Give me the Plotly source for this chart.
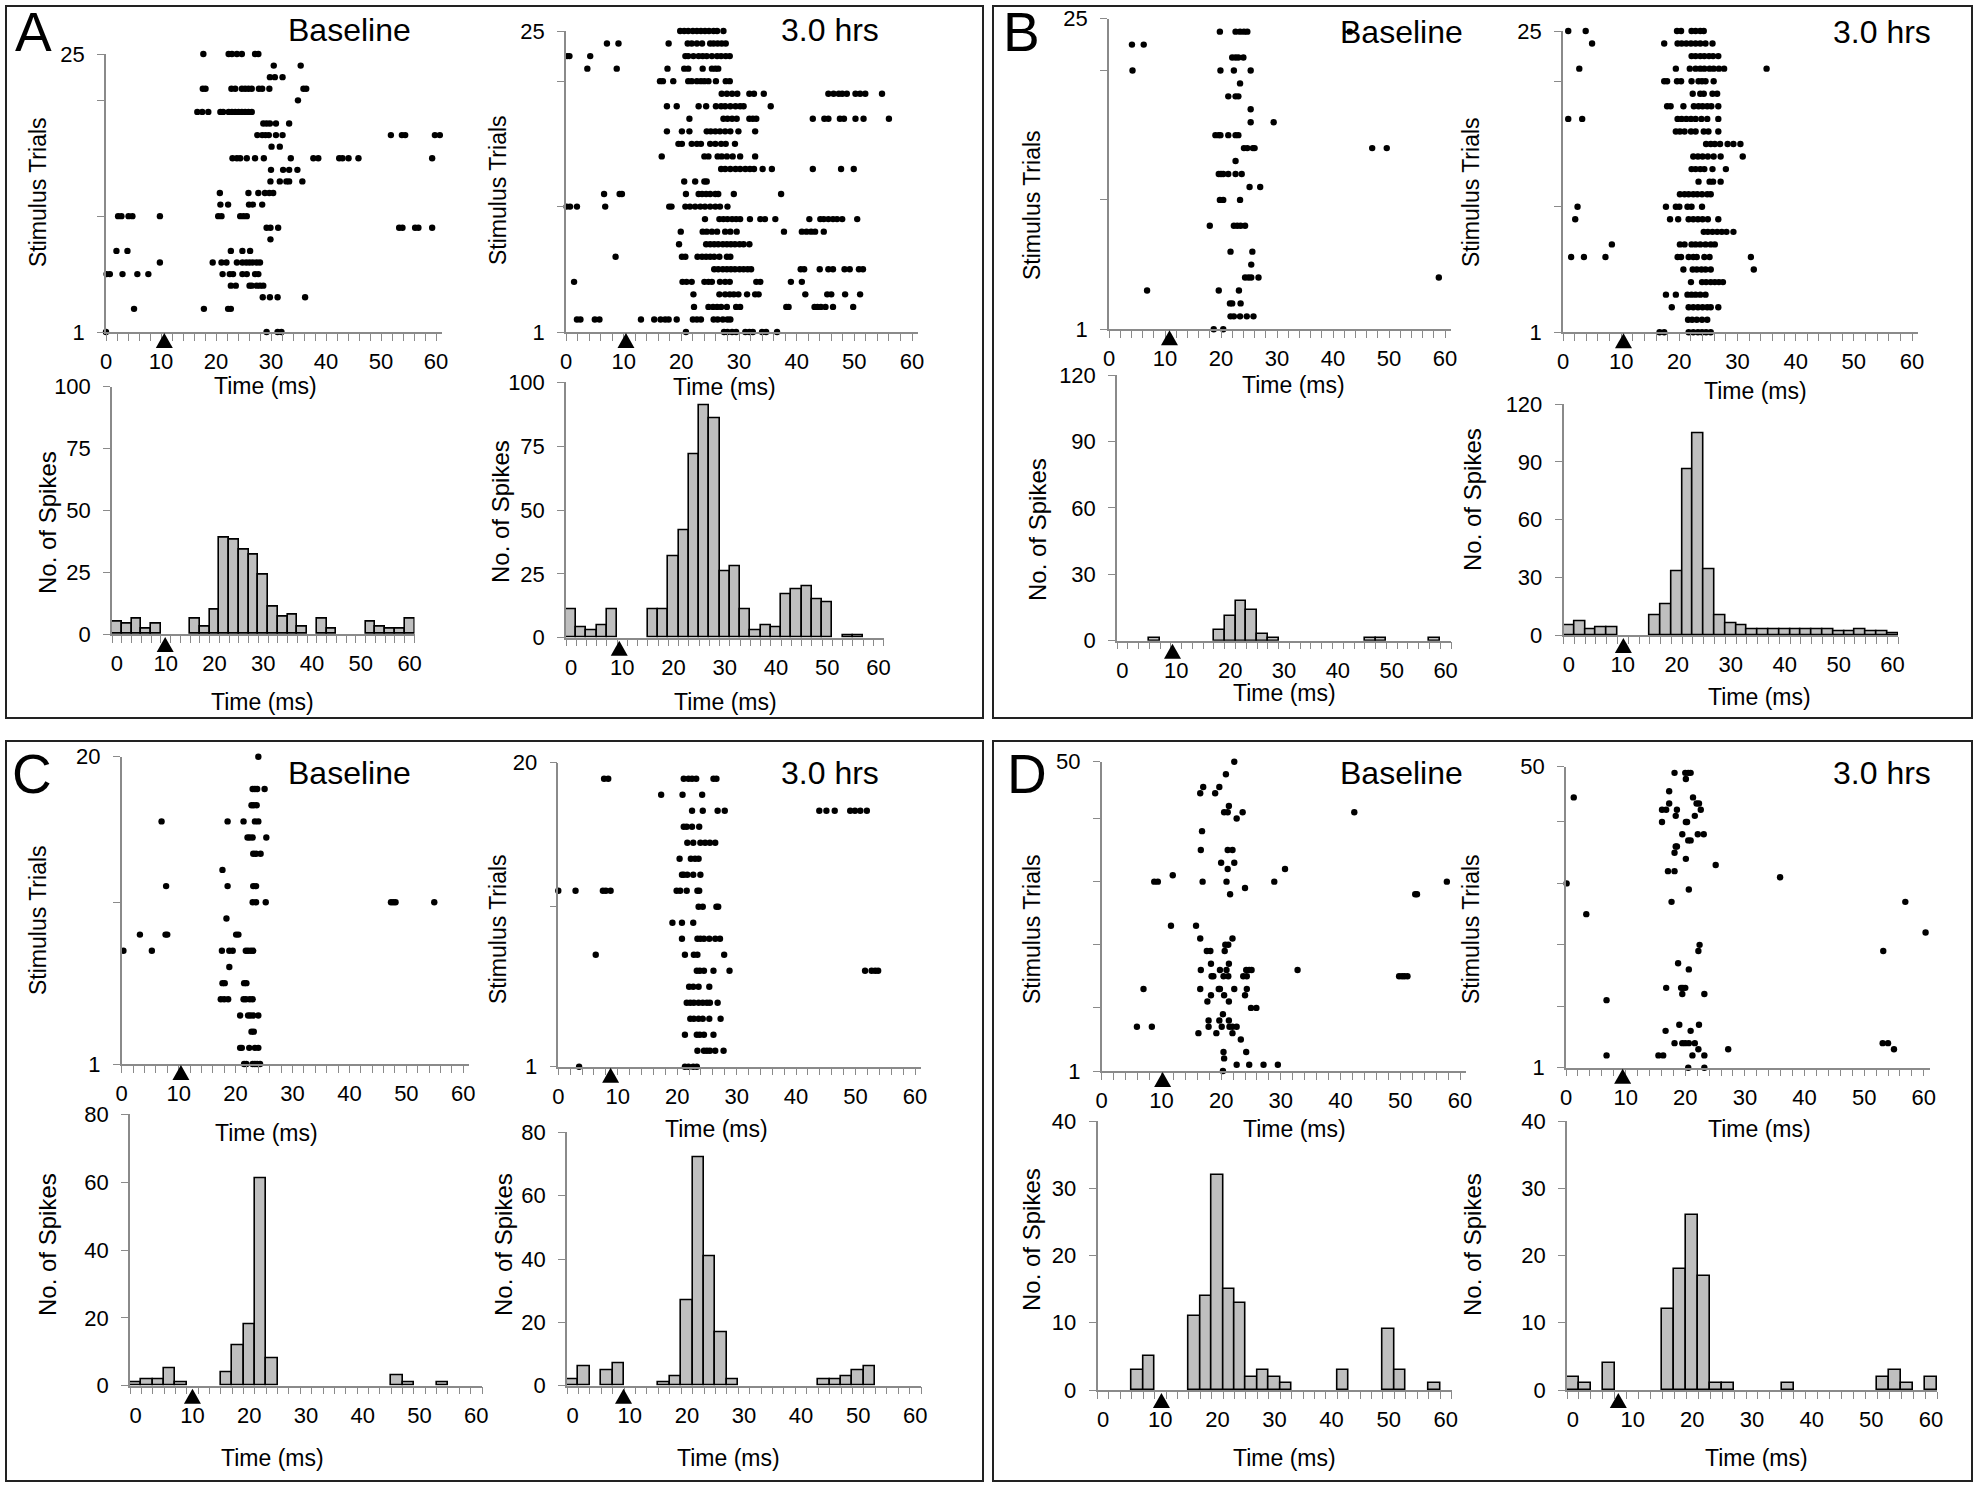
import plotly.graph_objects as go

W, H = 1980, 1489
OX, OY = 0, 0          # page offset of the plot inside the browser window (body margin removed)
FONT = "Liberation Sans"
GRAY = "#8a8a8a"

# ---------------- data ----------------
TIME_BINS = list(range(0, 61, 2))          # histogram bin centres (ms)
TIME_TICKS = [0, 10, 20, 30, 40, 50, 60]

# raster rows: (trial, [spike times in ms])
A_BASE_RASTER = [
    (25, [17.7, 22.3, 22.9, 23.8, 24.7, 27.1, 27.7]),
    (24, [30.5, 35.4]),
    (23, [29.8, 30.7, 32.1]),
    (22, [17.6, 18.1, 22.8, 23.5, 24.7, 25.3, 25.9, 26.5, 27.8, 28.4, 29.7, 35.9, 36.4]),
    (21, [34.9]),
    (20, [16.6, 17.5, 18.6, 20.8, 21.3, 22.3, 22.9, 23.5, 24.1, 24.7, 25.3, 25.9, 26.5]),
    (19, [28.6, 29.2, 29.8, 30.9, 33.3]),
    (18, [27.5, 28.4, 29.0, 29.6, 30.9, 32.1, 51.8, 53.8, 54.4, 59.8, 60.7]),
    (17, [30.1, 31.6]),
    (16, [23.0, 23.8, 24.4, 25.6, 27.1, 28.7, 33.6, 37.7, 38.6, 42.4, 43.0, 44.1, 45.9, 59.3]),
    (15, [30.0, 32.2, 33.3, 34.8]),
    (14, [29.9, 31.6, 32.8, 33.3, 35.7]),
    (13, [20.7, 25.9, 27.7, 28.9, 29.7, 30.4]),
    (12, [20.8, 22.2, 26.0, 26.7, 28.4]),
    (11, [2.2, 2.8, 4.1, 4.8, 9.8, 20.4, 21.0, 24.4, 25.0, 25.6]),
    (10, [29.2, 29.9, 31.3, 53.3, 53.9, 56.2, 56.8, 59.3]),
    (9, [29.9]),
    (8, [1.9, 3.9, 22.7, 24.8, 26.2]),
    (7, [9.8, 19.4, 21.0, 21.9, 23.8, 24.8, 25.5, 26.1, 26.7, 27.4, 28.0]),
    (6, [0.1, 0.7, 3.0, 5.7, 7.7, 21.2, 22.5, 23.1, 24.8, 25.6, 27.1, 27.7]),
    (5, [22.7, 23.6, 26.1, 26.5, 27.4, 28.0, 28.6]),
    (4, [28.5, 29.8, 31.2, 36.2]),
    (3, [5.1, 17.8, 22.2, 22.7]),
    (1, [0.0, 29.2, 31.2, 31.9]),
]

A_3H_RASTER = [
    (25, [19.8, 20.5, 21.2, 22.0, 22.7, 23.4, 24.1, 24.8, 25.6, 26.2, 27.3]),
    (24, [7.1, 9.1, 17.8, 21.1, 21.8, 22.7, 23.6, 25.0, 25.6, 26.3, 27.0, 27.7]),
    (23, [0.2, 0.6, 4.2, 20.7, 21.2, 22.1, 23.0, 23.7, 24.4, 25.3, 26.2, 26.9, 27.7, 28.4]),
    (22, [3.7, 8.8, 17.6, 20.5, 21.2, 23.7, 25.3, 25.9, 26.4]),
    (21, [16.3, 16.8, 18.6, 21.2, 21.8, 22.7, 23.4, 24.0, 24.7, 26.0, 27.7, 28.4]),
    (20, [27.0, 27.9, 28.8, 29.7, 31.8, 32.6, 34.3, 45.5, 46.4, 47.3, 47.9, 48.7, 50.2, 51.0, 51.9, 54.8]),
    (19, [17.5, 19.2, 23.0, 24.3, 26.0, 26.9, 27.6, 28.5, 29.4, 30.2, 30.8, 35.5]),
    (18, [21.4, 27.3, 28.0, 28.8, 29.6, 31.8, 32.4, 33.0, 42.8, 44.8, 45.5, 47.5, 48.2, 50.2, 51.6, 56.0]),
    (17, [17.5, 20.1, 21.4, 24.4, 25.1, 25.9, 26.7, 27.6, 28.5, 29.9, 32.8]),
    (16, [19.5, 20.1, 21.8, 22.7, 23.4, 25.0, 25.9, 26.9, 27.7, 29.3]),
    (15, [16.6, 24.0, 24.7, 26.3, 27.0, 27.9, 28.9, 30.2, 32.8]),
    (14, [26.9, 27.6, 28.5, 29.4, 30.2, 31.1, 31.9, 32.6, 34.1, 35.7, 42.8, 47.7, 49.9]),
    (13, [20.5, 22.4, 24.0, 24.4]),
    (12, [6.6, 9.3, 9.7, 20.8, 23.0, 23.6, 24.3, 25.0, 25.9, 26.4, 29.1, 37.3]),
    (11, [0.1, 0.7, 1.9, 6.8, 17.9, 18.3, 20.7, 21.5, 22.4, 23.3, 24.1, 25.0, 25.9, 26.7, 28.0]),
    (10, [24.1, 26.6, 27.3, 28.0, 28.8, 29.5, 30.2, 31.9, 33.7, 34.5, 36.3, 42.2, 44.1, 44.7, 45.5, 46.3, 47.0, 47.9, 50.5]),
    (9, [19.9, 23.7, 24.4, 25.3, 26.2, 27.6, 28.5, 29.6, 37.8, 40.9, 41.7, 42.5, 43.2, 44.7]),
    (8, [19.6, 24.3, 25.0, 25.7, 26.4, 27.2, 27.9, 28.6, 29.3, 30.1, 30.8, 31.8]),
    (7, [8.6, 20.1, 20.7, 22.8, 23.6, 24.3, 25.0, 25.7, 26.6, 27.9, 28.5]),
    (6, [25.7, 26.4, 27.2, 27.9, 28.6, 29.3, 30.1, 30.8, 31.5, 32.1, 40.7, 41.3, 44.0, 45.5, 46.3, 48.3, 49.2, 50.8, 51.5]),
    (5, [1.4, 20.2, 20.9, 21.8, 24.0, 24.7, 25.3, 26.7, 27.6, 28.4, 33.0, 33.7, 39.0, 40.9]),
    (4, [22.1, 26.6, 27.6, 28.4, 29.1, 29.9, 31.4, 32.8, 33.4, 41.5, 45.3, 46.0, 48.4, 51.0]),
    (3, [22.2, 24.7, 25.5, 26.2, 26.9, 27.9, 29.5, 30.2, 38.2, 38.6, 43.1, 43.6, 44.2, 45.0, 46.3, 49.8]),
    (2, [1.9, 2.5, 5.0, 5.8, 13.0, 15.3, 16.4, 17.2, 17.8, 19.2, 22.0, 22.7, 23.4, 25.6, 26.3, 27.2, 28.0, 28.5]),
    (1, [20.8, 27.4, 28.0, 28.8, 29.5, 31.1, 31.8, 32.4, 34.0, 34.7, 36.6]),
]

B_BASE_RASTER = [
    (24, [19.8, 22.6, 23.4, 24.1, 24.7, 43.0]),
    (23, [4.1, 6.2]),
    (22, [22.0, 22.6, 23.1, 24.0]),
    (21, [4.2, 19.9, 22.3, 25.3]),
    (20, [23.4]),
    (19, [21.3, 22.6, 23.1]),
    (18, [25.3]),
    (17, [25.3, 29.4]),
    (16, [19.0, 19.6, 19.9, 21.3, 22.6, 23.1]),
    (15, [24.1, 24.7, 25.7, 26.0, 47.0, 49.6]),
    (14, [22.6]),
    (13, [19.6, 20.0, 20.4, 21.3, 22.6, 23.7]),
    (12, [25.1, 27.0]),
    (11, [19.8, 20.4, 23.4]),
    (9, [18.0, 22.3, 22.9, 23.5, 24.3]),
    (7, [21.7, 25.6]),
    (6, [25.4]),
    (5, [24.3, 24.9, 25.4, 26.7, 58.9]),
    (4, [6.8, 19.6, 23.2]),
    (3, [21.6, 22.0, 23.5]),
    (2, [21.7, 22.3, 23.4, 24.6, 25.8]),
    (1, [18.7, 20.4]),
]

B_3H_RASTER = [
    (25, [0.9, 3.9, 19.6, 20.3, 22.1, 22.8, 23.6, 24.2]),
    (24, [5.0, 17.4, 19.7, 20.4, 21.2, 22.0, 22.8, 23.6, 24.5, 25.7]),
    (23, [22.1, 22.8, 23.6, 24.3, 25.1, 25.8, 26.7]),
    (22, [2.8, 19.4, 21.8, 22.8, 23.6, 24.3, 25.2, 25.9, 26.8, 27.7, 35.0]),
    (21, [17.4, 17.9, 19.6, 20.3, 22.1, 23.3, 23.9, 24.5, 25.9]),
    (20, [22.3, 23.6, 24.2, 25.7, 26.5]),
    (19, [17.9, 18.5, 20.7, 22.5, 23.3, 24.0, 24.8, 25.5, 26.7]),
    (18, [0.9, 3.3, 19.7, 20.4, 21.2, 22.0, 22.8, 23.8, 24.8, 26.7]),
    (17, [19.4, 20.1, 20.9, 22.0, 22.8, 24.2, 25.0, 26.7]),
    (16, [24.6, 25.4, 26.1, 27.0, 28.3, 29.3, 30.5]),
    (15, [22.4, 23.2, 24.0, 24.9, 25.9, 27.1, 30.9]),
    (14, [22.1, 22.8, 23.6, 24.3, 25.7, 28.0]),
    (13, [23.3, 25.2, 25.8, 27.1]),
    (12, [20.1, 20.9, 21.6, 22.4, 23.1, 23.9, 24.8, 25.4]),
    (11, [2.5, 17.7, 19.4, 20.0, 21.4, 22.1, 23.9]),
    (10, [2.1, 18.4, 19.8, 21.6, 22.4, 23.2, 24.0, 24.9, 26.7]),
    (9, [24.2, 24.9, 25.7, 26.5, 27.3, 28.1, 29.3]),
    (8, [8.4, 20.1, 20.9, 22.1, 22.8, 23.6, 24.5, 25.4, 26.1]),
    (7, [1.4, 3.6, 7.3, 19.7, 20.3, 21.6, 22.4, 23.0, 24.3, 25.2, 32.3]),
    (6, [20.7, 22.3, 23.0, 23.8, 24.5, 25.4, 32.8]),
    (5, [22.0, 23.9, 24.6, 25.4, 26.1, 26.8, 27.5]),
    (4, [17.7, 19.4, 21.4, 22.1, 22.8, 23.6, 24.5]),
    (3, [18.7, 21.6, 22.4, 23.2, 24.0, 24.8, 25.4, 26.7]),
    (2, [21.5, 22.2, 23.0, 23.9, 24.8]),
    (1, [16.6, 17.4, 21.6, 22.4, 23.2, 23.9, 24.6, 25.4]),
]

C_BASE_RASTER = [
    (20, [24.0]),
    (18, [23.0, 23.4, 23.8, 25.1]),
    (17, [22.8, 23.2, 23.7]),
    (16, [7.0, 18.6, 21.4, 23.4, 24.0]),
    (15, [22.1, 22.5, 23.0, 25.4]),
    (14, [23.1, 23.6, 24.4]),
    (13, [17.7]),
    (12, [7.8, 18.6, 23.1, 23.6]),
    (11, [23.0, 23.6, 25.3, 47.3, 47.7, 48.1, 54.9]),
    (10, [18.4]),
    (9, [3.2, 7.7, 8.0, 20.1, 20.5]),
    (8, [0.3, 5.3, 17.6, 18.9, 19.5, 21.8, 22.2, 22.7, 23.1]),
    (7, [18.9]),
    (6, [17.7, 18.1, 21.5, 21.9]),
    (5, [17.4, 18.0, 18.7, 21.4, 21.8, 22.5, 23.0]),
    (4, [20.8, 22.2, 22.6, 23.1, 24.0]),
    (3, [22.8, 23.2]),
    (2, [20.8, 21.1, 22.4, 23.4, 24.0]),
    (1, [21.5, 21.9, 23.0, 23.4, 23.8, 24.3]),
]

C_3H_RASTER = [
    (19, [7.7, 8.4, 21.1, 21.9, 22.5, 23.2, 26.1, 26.6]),
    (18, [17.3, 20.9, 24.2]),
    (17, [22.5, 24.3, 26.8, 28.0, 43.9, 45.1, 46.5, 49.1, 49.9, 50.8, 51.9]),
    (16, [21.1, 21.6, 22.5, 23.7]),
    (15, [21.7, 22.7, 23.9, 24.7, 25.5, 26.4]),
    (14, [20.4, 22.3, 23.0, 23.6]),
    (13, [20.8, 21.1, 21.7, 22.7, 23.9]),
    (12, [0.0, 2.9, 7.5, 8.0, 8.8, 19.9, 20.5, 21.6, 23.4, 23.7]),
    (11, [23.6, 24.3, 26.6, 26.9]),
    (10, [19.2, 20.8, 22.7]),
    (9, [20.8, 23.4, 23.9, 24.5, 25.4, 26.4, 27.2]),
    (8, [6.3, 21.3, 22.8, 23.4, 27.9]),
    (7, [23.3, 23.8, 24.5, 26.1, 28.8, 51.6, 52.7, 53.3, 53.8]),
    (6, [22.0, 22.7, 23.6, 25.4]),
    (5, [21.6, 22.2, 22.8, 23.6, 24.3, 25.0, 25.5, 26.8]),
    (4, [22.2, 22.8, 23.6, 24.3, 25.4, 27.3]),
    (3, [21.3, 23.3, 23.8, 24.5, 26.1]),
    (2, [23.4, 24.5, 25.0, 25.5, 26.4, 27.8]),
    (1, [3.5, 21.3, 21.9, 22.7, 23.3]),
]

D_BASE_RASTER = [
    (50, [22.2]),
    (48, [20.8]),
    (46, [17.0, 19.7]),
    (45, [16.5, 19.0]),
    (43, [21.3]),
    (42, [20.5, 21.1, 23.6, 42.3]),
    (41, [22.6]),
    (39, [16.8]),
    (36, [16.6, 21.1, 21.9]),
    (34, [20.0, 22.2]),
    (33, [21.1, 30.7]),
    (32, [11.9]),
    (31, [8.8, 9.4, 16.9, 20.9, 28.9, 57.8]),
    (30, [24.0]),
    (29, [21.5, 52.5, 52.8]),
    (24, [11.6, 15.8]),
    (22, [16.5, 21.9]),
    (21, [20.7, 21.2]),
    (20, [17.6, 18.2, 20.6]),
    (18, [18.3, 21.3]),
    (17, [16.6, 19.8, 20.9, 24.2, 24.7, 25.1, 32.8]),
    (16, [18.4, 18.7, 20.4, 21.2, 23.7, 24.3, 49.8, 50.3, 50.7, 51.2]),
    (14, [7.0, 16.5, 19.6, 19.8, 22.2, 24.3]),
    (13, [18.3, 20.5, 24.0]),
    (12, [17.7, 21.3]),
    (11, [25.0, 25.9]),
    (10, [20.3]),
    (9, [17.9, 19.7, 21.3]),
    (8, [5.9, 8.4, 17.9, 20.1, 21.4, 21.9, 22.6]),
    (7, [16.2, 19.2, 21.9]),
    (6, [23.3]),
    (4, [20.4, 24.2]),
    (3, [20.5]),
    (2, [22.6, 24.7, 27.1, 29.5]),
    (1, [20.3]),
]

D_3H_RASTER = [
    (49, [18.2, 20.0, 20.5, 20.9]),
    (48, [20.1]),
    (46, [17.3]),
    (45, [1.3, 21.3]),
    (44, [17.3, 21.9, 22.3]),
    (43, [16.1, 16.8, 18.6, 22.6]),
    (42, [18.4, 21.6]),
    (41, [16.1, 20.1, 20.3]),
    (39, [19.5, 22.1, 23.1]),
    (38, [20.5, 20.9]),
    (37, [18.4, 18.6]),
    (36, [18.2]),
    (35, [20.1]),
    (34, [25.1]),
    (33, [17.1, 18.2]),
    (32, [35.9]),
    (31, [0.1]),
    (30, [20.6]),
    (28, [17.7, 56.9]),
    (26, [3.4]),
    (23, [60.3]),
    (21, [22.4]),
    (20, [22.2, 53.2]),
    (18, [18.8]),
    (17, [20.6]),
    (14, [16.8, 19.3, 19.6, 20.0]),
    (13, [19.5, 23.2]),
    (12, [6.8]),
    (8, [19.0, 22.3]),
    (7, [16.7, 20.9]),
    (5, [18.2, 19.5, 20.0, 20.6, 21.6, 53.1, 54.0]),
    (4, [22.2, 27.2, 55.0]),
    (3, [6.8, 15.5, 16.3, 21.2, 23.2]),
    (1, [20.5, 23.2]),
]

# PSTH counts per 2-ms bin (bins centred 0, 2, ..., 60 ms)
A_BASE_HIST = [5, 4, 6, 2, 4, 0, 0, 0, 6, 3, 10, 39, 38, 34, 32, 24, 11, 7, 8, 3, 0, 6, 2, 0, 0, 0, 5, 3, 2, 2, 6]
A_3H_HIST = [11, 4, 3, 5, 11, 0, 0, 0, 11, 11, 32, 42, 72, 91, 86, 26, 28, 11, 3, 5, 4, 17, 19, 20, 15, 14, 0, 1, 1, 0, 0]
B_BASE_HIST = [0, 0, 0, 1, 0, 0, 0, 0, 0, 5, 11, 18, 14, 3, 1, 0, 0, 0, 0, 0, 0, 0, 0, 1, 1, 0, 0, 0, 0, 1, 0]
B_3H_HIST = [5, 7, 3, 4, 4, 0, 0, 0, 10, 16, 33, 86, 105, 34, 10, 6, 5, 3, 3, 3, 3, 3, 3, 3, 3, 2, 2, 3, 2, 2, 1]
C_BASE_HIST = [1, 2, 2, 5, 1, 0, 0, 0, 4, 12, 18, 61, 8, 0, 0, 0, 0, 0, 0, 0, 0, 0, 0, 3, 1, 0, 0, 1, 0, 0, 0]
C_3H_HIST = [2, 6, 0, 5, 7, 0, 0, 0, 1, 3, 27, 72, 41, 17, 2, 0, 0, 0, 0, 0, 0, 0, 2, 2, 3, 5, 6, 0, 0, 0, 0]
D_BASE_HIST = [0, 0, 0, 3, 5, 0, 0, 0, 11, 14, 32, 15, 13, 2, 3, 2, 1, 0, 0, 0, 0, 3, 0, 0, 0, 9, 3, 0, 0, 1, 0]
D_3H_HIST = [2, 1, 0, 4, 0, 0, 0, 0, 12, 18, 26, 17, 1, 1, 0, 0, 0, 0, 1, 0, 0, 0, 0, 0, 0, 0, 2, 3, 1, 0, 2]

# stimulus marker times (ms) as drawn under each axis
STIM_RASTER = [10.6, 10.4, 10.8, 10.4, 10.4, 8.8, 10.2, 9.5]
STIM_HIST = [9.9, 9.4, 9.3, 10.1, 10.0, 8.9, 10.2, 7.6]

TRIAL_TICKS = {25: [1, 11, 21, 25], 20: [1, 11, 20], 50: [1, 11, 21, 31, 41, 50]}
COUNT_TICKS = {100: [0, 25, 50, 75, 100], 120: [0, 30, 60, 90, 120],
               80: [0, 20, 40, 60, 80], 40: [0, 10, 20, 30, 40]}

PANEL_LETTERS = ["A", "B", "C", "D"]
COND_TITLES = ["Baseline", "3.0 hrs"]

# ---------------- layout geometry (window pixels) ----------------
# raster: (rows, px at 0 ms, px at 60 ms, py at trial 1, py at top trial, top trial)
RASTERS = [
    (A_BASE_RASTER, 106, 436, 332, 54, 25),
    (A_3H_RASTER, 566, 912, 332, 31, 25),
    (B_BASE_RASTER, 1109, 1445, 329.3, 18.7, 25),
    (B_3H_RASTER, 1563, 1912, 332.3, 31, 25),
    (C_BASE_RASTER, 121.7, 463.3, 1064, 756.7, 20),
    (C_3H_RASTER, 558.3, 915, 1066.7, 762.7, 20),
    (D_BASE_RASTER, 1101.7, 1460, 1071, 761.7, 50),
    (D_3H_RASTER, 1566, 1923.8, 1067.7, 766.7, 50),
]
# hist: (counts, px at -1 ms, px at 61 ms, py at 0, py at max, max)
HISTS = [
    (A_BASE_HIST, 112, 414.5, 634, 386.7, 100),
    (A_3H_HIST, 566, 883.5, 637.7, 382.3, 100),
    (B_BASE_HIST, 1117, 1451, 640.7, 375, 120),
    (B_3H_HIST, 1563.5, 1898, 635, 404.3, 120),
    (C_BASE_HIST, 130, 482, 1385.7, 1114.3, 80),
    (C_3H_HIST, 567, 921, 1385.7, 1132.3, 80),
    (D_BASE_HIST, 1097.5, 1451.5, 1390, 1121, 40),
    (D_3H_HIST, 1567, 1937, 1390, 1121, 40),
]


def fx(px):
    return (px - OX) / W


def fy(py):
    return 1 - (py - OY) / H


fig = go.Figure()
axes = {}
shapes = []
annotations = []

TICKFONT = dict(family=FONT, size=22, color="black")


def names(i):
    if i == 1:
        return "x", "y", "xaxis", "yaxis"
    return f"x{i}", f"y{i}", f"xaxis{i}", f"yaxis{i}"


def base_axis():
    return dict(showline=True, linecolor=GRAY, linewidth=1.5, showgrid=False,
                zeroline=False, ticks="outside", ticklen=7, tickcolor=GRAY,
                tickwidth=1.4, tickfont=TICKFONT, fixedrange=True, automargin=False,
                ticklabeloverflow="allow")


def stim_marker(xr, yr, xv, gap):
    # filled triangle under the time axis at the stimulus time
    shapes.append(dict(type="path", xref=xr, yref=f"{yr} domain",
                       xsizemode="pixel", ysizemode="pixel", xanchor=xv, yanchor=0,
                       path=f"M 0,{-gap} L 8.5,{-gap - 15} L -8.5,{-gap - 15} Z",
                       fillcolor="black", line=dict(width=0), layer="above"))


idx = 1
for k in range(4):
    for j in range(2):
        rows, x0, x60, y1, ytop, ymax = RASTERS[2 * k + j]
        xr, yr, xk, yk = names(idx)
        xs, ys = [], []
        for trial, times in rows:
            xs.extend(times)
            ys.extend([trial] * len(times))
        fig.add_trace(go.Scatter(x=xs, y=ys, mode="markers",
                                 marker=dict(size=6.4, color="black", line=dict(width=0)),
                                 xaxis=xr, yaxis=yr, cliponaxis=False,
                                 hoverinfo="skip", showlegend=False))
        per = (x60 - x0) / 60.0
        ax = base_axis()
        ax.update(domain=[fx(x0), fx(x0 + 61 * per)], range=[0, 61], anchor=yr,
                  tickvals=TIME_TICKS, ticklabelstandoff=2,
                  minor=dict(tick0=0, dtick=2, ticks="outside", ticklen=7,
                             tickcolor=GRAY, tickwidth=1.4))
        axes[xk] = ax
        yt = TRIAL_TICKS[ymax]
        ay = base_axis()
        ay.update(domain=[fy(y1), fy(ytop)], range=[1, ymax], anchor=xr,
                  tickvals=yt, ticktext=[str(v) if v in (1, ymax) else "" for v in yt],
                  ticklabelstandoff=8)
        axes[yk] = ay
        stim_marker(xr, yr, STIM_RASTER[2 * k + j], 1)
        idx += 1
    for j in range(2):
        vals, xlo, xhi, y0, ytop, ymax = HISTS[2 * k + j]
        xr, yr, xk, yk = names(idx)
        fig.add_trace(go.Bar(x=TIME_BINS, y=[v if v else None for v in vals], width=2,
                             marker=dict(color="#bfbfbf", line=dict(color="black", width=1.6)),
                             xaxis=xr, yaxis=yr, hoverinfo="skip", showlegend=False))
        ax = base_axis()
        ax.update(domain=[fx(xlo), fx(xhi)], range=[-1, 61], anchor=yr,
                  tickvals=TIME_TICKS, tickcolor="rgba(0,0,0,0)", ticklabelstandoff=2,
                  minor=dict(tick0=1, dtick=2, ticks="outside", ticklen=7,
                             tickcolor=GRAY, tickwidth=1.4))
        axes[xk] = ax
        ay = base_axis()
        ay.update(domain=[fy(y0), fy(ytop)], range=[0, ymax], anchor=xr,
                  tickvals=COUNT_TICKS[ymax], ticklabelstandoff=8)
        axes[yk] = ay
        stim_marker(xr, yr, STIM_HIST[2 * k + j], 3)
        idx += 1


def label(text, x, y, size, angle=0, yanchor="middle"):
    annotations.append(dict(text=text, x=fx(x), y=fy(y), xref="paper", yref="paper",
                            showarrow=False, textangle=angle, xanchor="center",
                            yanchor=yanchor, borderpad=0,
                            font=dict(family=FONT, size=size, color="black")))


# panel boxes
BOXES = [(6, 6, 983, 718), (993, 6, 1972, 718), (6, 741, 983, 1481), (993, 741, 1972, 1481)]
for (l, t, r, b) in BOXES:
    shapes.append(dict(type="rect", xref="paper", yref="paper",
                       x0=max(fx(l), 1 / W), x1=fx(r),
                       y0=fy(b), y1=min(fy(t), 1 - 1 / H),
                       line=dict(color="#222222", width=2),
                       fillcolor="rgba(0,0,0,0)", layer="above"))

# panel letters (top-anchored so they stay inside the page)
LETTER_POS = [(33, 0), (1021, 0), (32, 742), (1027, 742)]
for t, (x, y) in zip(PANEL_LETTERS, LETTER_POS):
    label(t, x, y, 55, yanchor="top")

TITLE_POS = [[(349, 30), (830, 30)], [(1401, 32), (1882, 32)],
             [(349, 773), (830, 773)], [(1401, 773), (1882, 773)]]
for pos in TITLE_POS:
    for t, (x, y) in zip(COND_TITLES, pos):
        label(t, x, y, 32)

TRIALS_POS = [(38, 192), (498, 190), (1032, 205), (1471, 192),
              (38, 920), (498, 929), (1032, 929), (1471, 929)]
for (x, y) in TRIALS_POS:
    label("Stimulus Trials", x, y, 23, -90)

SPIKES_POS = [(47, 523), (500, 512), (1037, 530), (1472, 500),
              (47, 1245), (503, 1245), (1031, 1240), (1472, 1245)]
for (x, y) in SPIKES_POS:
    label("No. of Spikes", x, y, 24, -90)

TIME_POS = [(265, 386), (724, 387), (262, 702), (725, 702),
            (1293, 385), (1755, 391), (1284, 693), (1759, 697),
            (266, 1133), (716, 1129), (272, 1458), (728, 1458),
            (1294, 1129), (1759, 1129), (1284, 1458), (1756, 1458)]
for (x, y) in TIME_POS:
    label("Time (ms)", x, y, 23)

fig.update_layout(width=W, height=H,
                  margin=dict(l=0, r=0, t=0, b=0, pad=0, autoexpand=False),
                  paper_bgcolor="white", plot_bgcolor="white", showlegend=False,
                  bargap=0, shapes=shapes, annotations=annotations, **axes)

# remove the browser's default body margin so the figure sits at the window origin
fig.write_html("out.html", config={"displayModeBar": False},
               post_script="document.body.style.margin='0px';document.body.style.padding='0px';")
